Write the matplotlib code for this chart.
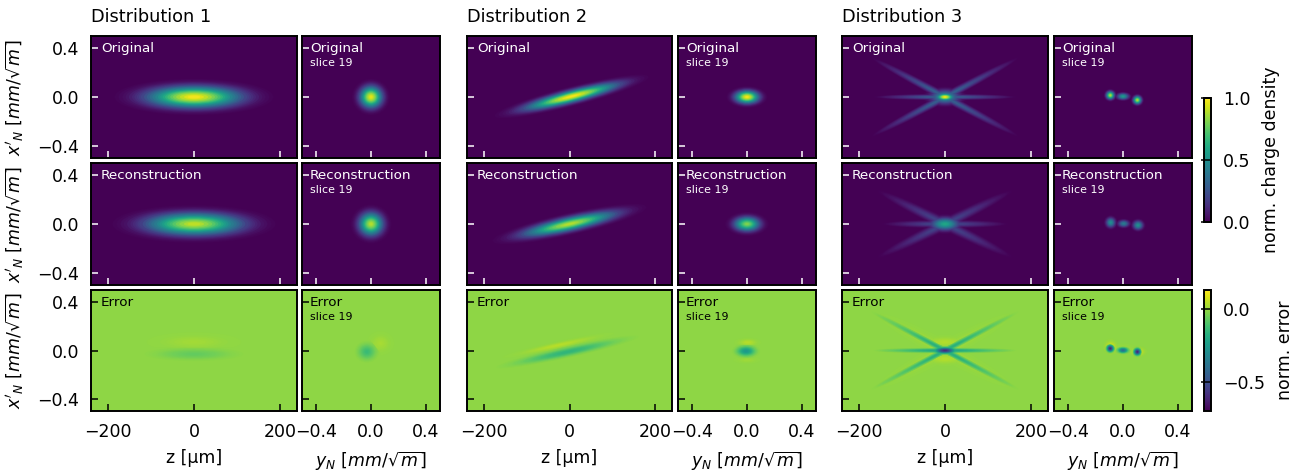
#!/usr/bin/env python3

import matplotlib
matplotlib.use('Agg')
import matplotlib.pyplot as plt
from matplotlib.cm import ScalarMappable
from matplotlib.colors import Normalize
from matplotlib.patches import Ellipse
from matplotlib.transforms import Affine2D

W, H = 1301, 474

dist_titles = ['Distribution 1', 'Distribution 2', 'Distribution 3']
row_names = ['Original', 'Reconstruction', 'Error']
z_ticks = [-200, 0, 200]
yn_ticks = [-0.4, 0.0, 0.4]
xp_ticks = [-0.4, 0.0, 0.4]
density_ticks = [0.0, 0.5, 1.0]
error_ticks = [-0.5, 0.0]
err_background = -0.007

# fall-off of a blob: level (fraction of peak), its size (fraction of the outer contour)
# and, for the long thin rays, how far along the ray that level reaches
levels = [0.01, 0.02, 0.035, 0.05, 0.075, 0.10, 0.125, 0.15, 0.175, 0.20, 0.25, 0.30, 0.35,
          0.40, 0.45, 0.50, 0.55, 0.60, 0.65, 0.70, 0.75, 0.80, 0.85, 0.90, 0.95, 0.98]
radii = [1.0, 0.95, 0.90, 0.86, 0.82, 0.78, 0.75, 0.72, 0.695, 0.67, 0.63, 0.595, 0.56,
         0.525, 0.49, 0.455, 0.425, 0.395, 0.365, 0.335, 0.30, 0.265, 0.225, 0.18, 0.125, 0.08]
ray_len = [1.0, 0.98, 0.96, 0.94, 0.92, 0.90, 0.88, 0.86, 0.84, 0.82, 0.78, 0.74, 0.70,
           0.66, 0.62, 0.58, 0.54, 0.50, 0.46, 0.42, 0.38, 0.34, 0.30, 0.26, 0.22, 0.20]

# blobs: x0, y0, half width, half height, slope, peak
d1_orig_z = [(0, 0, 185, 0.15, 0, 1.0)]
d1_orig_y = [(0, 0, 0.14, 0.15, 0, 0.97)]
d1_reco_z = [(0, 0, 190, 0.155, 0, 0.92)]
d1_reco_y = [(0, 0, 0.15, 0.16, 0, 0.9)]
d1_err_z = [(0, 0.07, 110, 0.08, 0, 0.025), (0, -0.03, 140, 0.07, 0, -0.06)]
d1_err_y = [(-0.03, -0.01, 0.10, 0.10, 0, -0.13), (0.07, 0.06, 0.1, 0.1, 0, 0.03)]

d2_orig_z = [(5, 0.005, 180, 0.085, 0.00088, 1.0)]
d2_orig_y = [(0, 0, 0.15, 0.09, 0, 1.0)]
d2_reco_z = [(0, 0, 180, 0.095, 0.00076, 0.9)]
d2_reco_y = [(0, 0, 0.16, 0.10, 0, 0.82)]
d2_err_z = [(-5, -0.012, 185, 0.055, 0.00076, -0.15), (-26, 0.044, 130, 0.035, 0.00076, 0.05)]
d2_err_y = [(-0.007, -0.005, 0.11, 0.065, 0, -0.25), (0.005, 0.067, 0.1, 0.04, 0, 0.05),
            (0, -0.08, 0.1, 0.03, 0, 0.02)]

d3_orig_z = [(0, 0, 55, 0.09, 0, 0.55), (0, 0, 35, 0.05, 0, 1.0)]
d3_orig_y = [(-0.093, 0.014, 0.05, 0.055, 0, 0.9), (0, 0.005, 0.07, 0.042, 0, 0.55),
             (0.105, -0.025, 0.05, 0.055, 0, 0.9)]
d3_reco_z = [(0, 0, 55, 0.085, 0, 0.6)]
d3_reco_y = [(-0.09, 0.012, 0.055, 0.065, 0, 0.5), (0.005, 0.003, 0.065, 0.045, 0, 0.42),
             (0.11, -0.01, 0.06, 0.06, 0, 0.5)]
d3_err_z = [(0, 0, 40, 0.04, 0, -0.6), (0, 0.07, 60, 0.06, 0, 0.045), (0, -0.07, 60, 0.06, 0, 0.045)]
d3_err_y = [(-0.093, 0.017, 0.04, 0.045, 0, -0.62), (0, 0.002, 0.06, 0.035, 0, -0.4),
            (0.105, -0.011, 0.04, 0.045, 0, -0.62), (-0.09, 0.03, 0.06, 0.07, 0, 0.1),
            (0.11, -0.01, 0.07, 0.05, 0, 0.1), (0, 0.01, 0.1, 0.05, 0, 0.03)]

# rays of distribution 3: half length, half thickness, slope, peak
d3_orig_rays = [(175, 0.05, 0.00187, 0.3), (175, 0.05, -0.00187, 0.3), (170, 0.03, 0, 0.3)]
d3_reco_rays = [(160, 0.065, 0.00172, 0.2), (160, 0.065, -0.00172, 0.2), (150, 0.04, 0, 0.22)]
d3_err_rays = [(175, 0.035, 0.00187, -0.17), (175, 0.035, -0.00187, -0.17), (170, 0.025, 0, -0.2),
               (155, 0.09, 0.00187, 0.025), (155, 0.09, -0.00187, 0.025)]
rays_by_row = [d3_orig_rays, d3_reco_rays, d3_err_rays]

panels = [[d1_orig_z, d1_orig_y, d2_orig_z, d2_orig_y, d3_orig_z, d3_orig_y],
          [d1_reco_z, d1_reco_y, d2_reco_z, d2_reco_y, d3_reco_z, d3_reco_y],
          [d1_err_z, d1_err_y, d2_err_z, d2_err_y, d3_err_z, d3_err_y]]

col_px = [(91, 297), (302, 440), (467, 672), (678, 816), (842, 1048), (1054, 1192)]
row_px = [(36, 158), (163, 285), (290, 411)]

plt.rcParams['font.size'] = 12.5
plt.rcParams['mathtext.default'] = 'it'

norm_d = Normalize(0, 1)
norm_e = Normalize(-0.7, 0.133)
cmap = plt.get_cmap('viridis')


def axes_px(fig, x0, x1, y0, y1):
    return fig.add_axes([x0 / W, 1 - y1 / H, (x1 - x0) / W, (y1 - y0) / H])


def draw_blobs(ax, blobs, rays, norm, base):
    ax.set_facecolor(cmap(norm(base)))
    contours = []
    for b in blobs:
        for lev, r in zip(levels, radii):
            contours.append((abs(b[5]) * lev, b[0], b[1], b[2] * r, b[3] * r, b[4], b[5] * lev))
    for a in rays:
        for lev, r, f in zip(levels, radii, ray_len):
            contours.append((abs(a[3]) * lev, 0, 0, a[0] * f, a[1] * r, a[2], a[3] * lev))
    contours.sort(key=lambda k: k[0])
    for k in contours:
        shear = Affine2D.from_values(1, k[5], 0, 1, k[1], k[2])
        ax.add_patch(Ellipse((0, 0), 2 * k[3], 2 * k[4], lw=0,
                             facecolor=cmap(norm(base + k[6])),
                             transform=shear + ax.transData))


fig = plt.figure(figsize=(W / 100, H / 100), dpi=100)

for r, (y0, y1) in enumerate(row_px):
    is_err = r == 2
    tick_col = 'black' if is_err else 'white'
    txt_col = 'black' if is_err else 'white'
    for c, (x0, x1) in enumerate(col_px):
        ax = axes_px(fig, x0, x1, y0, y1)
        draw_blobs(ax, panels[r][c], rays_by_row[r] if c == 4 else [],
                   norm_e if is_err else norm_d, err_background if is_err else 0.0)
        is_z = c % 2 == 0
        if is_z:
            ax.set_xlim(-240, 240)
            ax.set_xticks(z_ticks)
        else:
            ax.set_xlim(-0.505, 0.505)
            ax.set_xticks(yn_ticks)
        ax.set_ylim(-0.5, 0.5)
        ax.set_yticks(xp_ticks)
        ax.tick_params(direction='in', length=5, width=1.1, color=tick_col,
                       labelbottom=is_err, labelleft=(c == 0), pad=8.6)
        for s in ax.spines.values():
            s.set_linewidth(1.4)

        tx = 10 / (x1 - x0) if is_z else 8 / (x1 - x0)
        ax.text(tx, 0.90, row_names[r], color=txt_col, fontsize=9.7,
                va='center', transform=ax.transAxes)
        if not is_z:
            ax.text(tx, 0.777, 'slice 19', color=txt_col, fontsize=7.9,
                    va='center', transform=ax.transAxes)
        if r == 0 and is_z:
            ax.set_title(dist_titles[c // 2], loc='left', fontsize=12.8, pad=10, x=0)
        if is_err:
            ax.set_xlabel('z [µm]' if is_z else r"$y_N\ [mm/\sqrt{m}]$")
            ax.xaxis.set_label_coords(0.5, -0.314 if is_z else -0.32)
        if c == 0:
            ax.set_ylabel(r"$x'_N\ [mm/\sqrt{m}]$")
            ax.yaxis.set_label_coords(-0.315, 0.5)

cax = axes_px(fig, 1204, 1211, 98, 222)
cb = fig.colorbar(ScalarMappable(norm_d, cmap), cax=cax, ticks=density_ticks)
cb.set_label('norm. charge density', labelpad=8)
cb.ax.tick_params(direction='in', length=7, width=1.1, pad=8.6)
cb.outline.set_linewidth(1.4)

cax = axes_px(fig, 1204, 1211, 290, 411)
cb = fig.colorbar(ScalarMappable(norm_e, cmap), cax=cax, ticks=error_ticks)
cb.set_label('norm. error', labelpad=8)
cb.ax.tick_params(direction='in', length=7, width=1.1, pad=8.6)
cb.outline.set_linewidth(1.4)

fig.savefig('out.png', dpi=100)
